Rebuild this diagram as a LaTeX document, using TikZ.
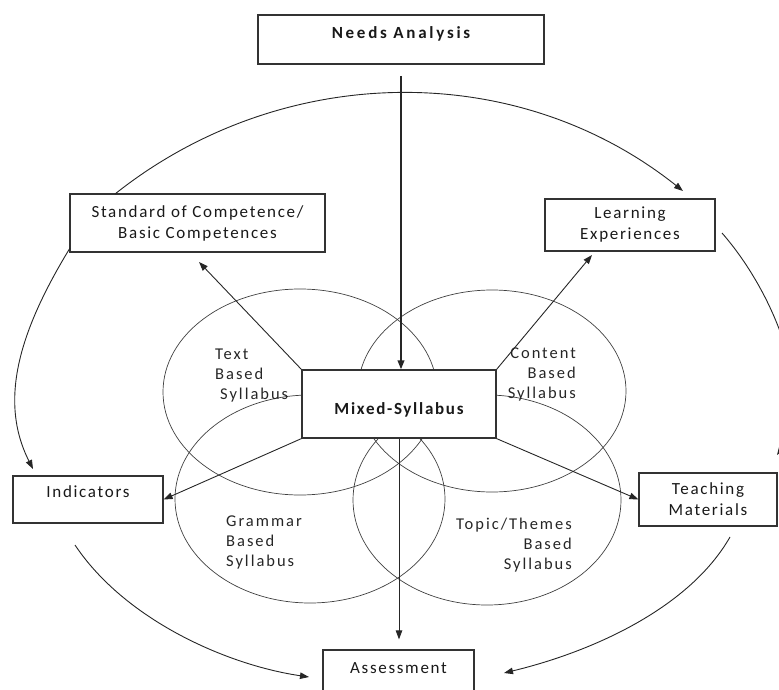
\documentclass[tikz,border=0pt]{standalone}
\usepackage{fontspec}
\setmainfont{Carlito}
\newfontfamily\boxfont{Carlito}[LetterSpace=10]
\newfontfamily\ringfont{Carlito}[LetterSpace=12]
\usetikzlibrary{arrows.meta}

\begin{document}
\begin{tikzpicture}[x=1pt,y=-1pt,
  box/.style={draw=black!80, fill=white, line width=1.2pt, inner sep=0pt, align=center,
    text=black!90, font=\boxfont\fontsize{17}{21}\selectfont},
  ringtext/.style={inner sep=0pt, text=black!85, font=\ringfont\fontsize{16.5}{20}\selectfont},
  ring/.style={draw=black!75, line width=0.7pt},
  link/.style={draw=black!85, line width=0.9pt, -{Triangle[length=9pt,width=6.5pt]}}]
\useasboundingbox (0,0) rectangle (779,690);
% the four syllabus rings
\draw [ring] (300,392) ellipse (137 and 103);
\draw [ring] (492,391) ellipse (134 and 101);
\draw [ring] (310,499) ellipse (135 and 104);
\draw [ring] (487,500) ellipse (134 and 105);
\node [ringtext, anchor=west, align=left] (textsyl) at (215,376) {Text\\Based\\\hspace{5pt}Syllabus};
\node [ringtext, anchor=east, align=right] (contsyl) at (576,374) {Content\\Based\\Syllabus};
\node [ringtext, anchor=west, align=left] (gramsyl) at (226,542) {Grammar\\Based\\Syllabus};
\node [ringtext, anchor=east, align=right] (topsyl) at (572,545) {Topic/Themes\\Based\\Syllabus};
% boxes
\node [box, minimum width=286pt, minimum height=49pt, text height=11pt, text depth=13.4pt] (needs) at (401,39.5) {\addfontfeature{LetterSpace=16}\bfseries Needs Analysis};
\node [box, minimum width=255pt, minimum height=58pt] (std) at (197.5,223) {Standard of Competence/\\Basic Competences};
\node [box, minimum width=170pt, minimum height=52pt] (learn) at (630,225) {Learning\\Experiences};
\node [box, minimum width=194pt, minimum height=68pt, text height=20.6pt, text depth=0pt] (mixed) at (399,404) {\bfseries Mixed-Syllabus};
\node [box, minimum width=150pt, minimum height=47pt, text height=11pt, text depth=15.4pt] (ind) at (88,499.5) {Indicators};
\node [box, minimum width=138pt, minimum height=53pt] (teach) at (708,499.5) {Teaching\\Materials};
\node [box, minimum width=151pt, minimum height=60pt, text height=11pt, text depth=24pt] (assess) at (398.5,680) {Assessment};
% free ends of the connectors
\coordinate (naout) at (401,76);
\coordinate (stdtip) at (199,262);
\coordinate (learntip) at (592,255);
\coordinate (topstart) at (115,194);
\coordinate (toptip) at (683,191);
\coordinate (rstart) at (722,233);
\coordinate (rtip) at (777,455);
\coordinate (lstart) at (70,248);
\coordinate (ltip) at (33,469);
\coordinate (blstart) at (75,545);
\coordinate (bltip) at (309,677);
\coordinate (brstart) at (730,537);
\coordinate (brtip) at (504,673);
% spokes
\draw [link, line width=2pt] (naout) -- (naout |- mixed.north);
\draw [link, shorten >=10pt] (mixed.south) -- (mixed.south |- assess.north);
\draw [link] (mixed.north west) -- (stdtip);
\draw [link] (mixed.north east) -- (learntip);
\draw [link] (mixed.south west) -- (ind.east);
\draw [link] (mixed.south east) -- (teach.west);
% outer cycle
\draw [link] (topstart) .. controls (281,62) and (516,58) .. (toptip);
\draw [link] (rstart) .. controls (777,296) and (815,400) .. (rtip);
\draw [link] (lstart) .. controls (20,330) and (-2,400) .. (ltip);
\draw [link] (blstart) .. controls (125,620) and (227,665) .. (bltip);
\draw [link] (brstart) .. controls (690,607) and (595,651) .. (brtip);
\end{tikzpicture}
\end{document}
